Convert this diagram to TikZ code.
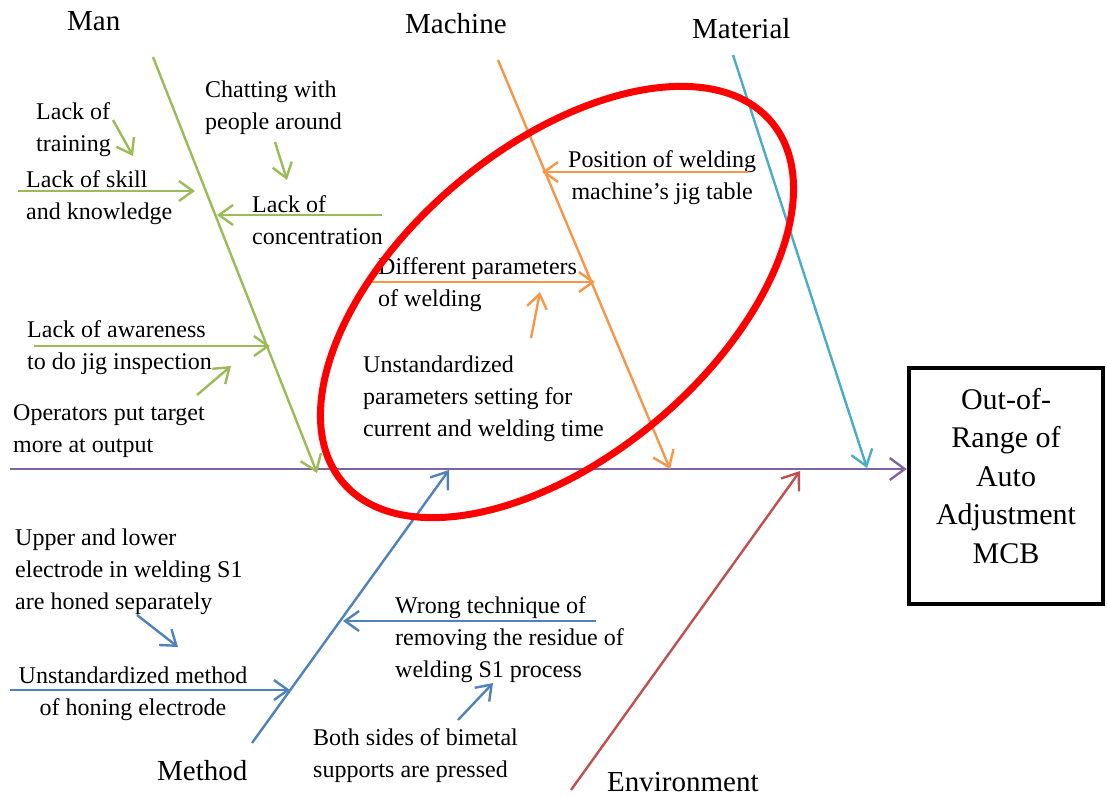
\documentclass[tikz,border=0pt]{standalone}
\usepackage{fontspec}
\setmainfont{Liberation Serif}
\usetikzlibrary{arrows.meta}

\begin{document}
\begin{tikzpicture}[
  x=1pt,y=-1pt,
  bone/.style={line width=2.4pt,-{Straight Barb[length=15pt,width=22pt]}},
  twig/.style={line width=2.4pt,-{Straight Barb[length=14pt,width=20pt]}},
  heading/.style={font=\fontsize{29}{35}\selectfont,anchor=base west,inner sep=0pt},
  cause/.style={font=\fontsize{24}{31.6}\selectfont,align=left,anchor=base west,
                inner sep=0pt,yshift=-2pt},
  effectbox/.style={rectangle,draw=black,line width=4.5pt,minimum width=194pt,
                    minimum height=236pt,inner sep=0pt},
  effecttext/.style={font=\fontsize{30}{38.5}\selectfont,align=center,inner sep=0pt},
  redring/.style={draw=red,line width=7pt},
]
\definecolor{manCol}{HTML}{9BBB59}
\definecolor{machineCol}{HTML}{F79646}
\definecolor{materialCol}{HTML}{4BACC6}
\definecolor{methodCol}{HTML}{4F81BD}
\definecolor{envCol}{HTML}{C0504D}
\definecolor{spineCol}{HTML}{8064A2}

\useasboundingbox (0,0) rectangle (1107,796);

% Effect box and category headings.
\node[effectbox] (effect) at (1006,486) {};
\node[effecttext] (effectText) at ([yshift=10pt]effect.center)
  {Out-of-\\Range of\\Auto\\Adjustment\\MCB};
\node[heading] (lblMan) at (67,30) {Man};
\node[heading] (lblMachine) at (405,33) {Machine};
\node[heading] (lblMaterial) at (692,38) {Material};
\node[heading] (lblMethod) at (157,780) {Method};
\node[heading] (lblEnv) at (607,791) {Environment};

% Main bones of the fishbone (cause nodes sit on their last baseline).
\coordinate (spineStart) at (10,469);
\coordinate (manTop) at (153,57);      \coordinate (manEnd) at (317,473);
\coordinate (machTop) at (498,60);     \coordinate (machEnd) at (670,469);
\coordinate (matTop) at (733,55);      \coordinate (matEnd) at (867,468);
\coordinate (methBot) at (252,743);    \coordinate (methEnd) at (449,470);
\coordinate (envBot) at (571,790);     \coordinate (envEnd) at (800,471);

\draw[bone,spineCol] (spineStart) -- (spineStart -| effect.west);
\draw[bone,manCol] (manTop) -- (manEnd);
\draw[bone,machineCol] (machTop) -- (machEnd);
\draw[bone,materialCol] (matTop) -- (matEnd);
\draw[bone,methodCol] (methBot) -- (methEnd);
\draw[bone,envCol] (envBot) -- (envEnd);

% Man causes.
\node[cause] (training) at (36,149) {Lack of\\training};
\node[cause] (skill) at (26,217) {Lack of skill\\and knowledge};
\node[cause] (chatting) at (205,127) {Chatting with\\people around};
\node[cause] (concentration) at (252,242) {Lack of\\concentration};
\node[cause] (awareness) at (27,367) {Lack of awareness\\to do jig inspection};
\node[cause] (operators) at (13,450) {Operators put target\\more at output};

\foreach \a/\b/\c/\d/\n in {113/120/133/156/train,18/191/195/191/skill,
  275/142/287/180/chat,382/215/217/215/conc,34/346/270/346/aware,
  197/395/231/366/oper}
{
  \coordinate (\n A) at (\a,\b);
  \coordinate (\n B) at (\c,\d);
  \draw[twig,manCol] (\n A) -- (\n B);
}

% Machine causes.
\node[cause,align=center] (position) at (568,197) {Position of welding\\machine’s jig table};
\node[cause] (different) at (378,304) {Different parameters\\of welding};
\node[cause] (unstdParam) at (363,434)
  {Unstandardized\\parameters setting for\\current and welding time};

\foreach \a/\b/\c/\d/\n in {748/172/542/172/pos,369/282/595/282/diff,
  531/338/540/292/param}
{
  \coordinate (\n A) at (\a,\b);
  \coordinate (\n B) at (\c,\d);
  \draw[twig,machineCol] (\n A) -- (\n B);
}

% Method causes.
\node[cause] (upper) at (15,607)
  {Upper and lower\\electrode in welding S1\\are honed separately};
\node[cause,align=center,anchor=base] (honing) at (133,713)
  {Unstandardized method\\of honing electrode};
\node[cause] (wrong) at (395,675)
  {Wrong technique of\\removing the residue of\\welding S1 process};
\node[cause] (both) at (313,775) {Both sides of bimetal\\supports are pressed};

\foreach \a/\b/\c/\d/\n in {137/615/178/647/upp,10/690/290/690/hone,
  596/621/343/621/wrg,458/720/493/683/bth}
{
  \coordinate (\n A) at (\a,\b);
  \coordinate (\n B) at (\c,\d);
  \draw[twig,methodCol] (\n A) -- (\n B);
}

% Highlight ring round the machine causes.
\coordinate (ringCentre) at (557,302);
\draw[redring,rotate around={40:(ringCentre)}] (ringCentre)
  ellipse [x radius=280,y radius=155];
\end{tikzpicture}
\end{document}
